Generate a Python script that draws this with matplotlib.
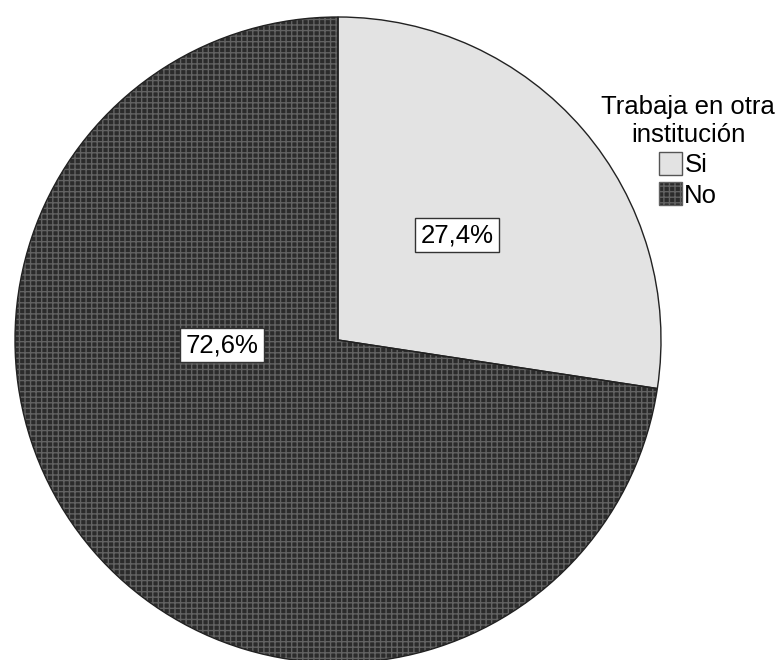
import matplotlib
matplotlib.use("Agg")
import matplotlib.pyplot as plt
from matplotlib.patches import Patch

categories = ["Si", "No"]
percentages = [27.4, 72.6]
legend_title = "Trabaja en otra\ninstitución"

plt.rcParams["font.family"] = ["Liberation Sans", "DejaVu Sans"]
plt.rcParams["hatch.linewidth"] = 1.0

W, H = 776, 660
fig = plt.figure(figsize=(W / 100, H / 100), dpi=100)

# pie centre and radius in pixels
cx, cy, r = 338, 340, 323
ax = fig.add_axes([(cx - r) / W, 1 - (cy + r) / H, 2 * r / W, 2 * r / H])

light = "#e3e3e3"
dark = "#2b2b2b"
grid = "#626262"

# filled wedges: light solid slice and dark grid-patterned slice
wedges, _ = ax.pie(percentages, startangle=90, counterclock=False, radius=1,
                   colors=[light, dark],
                   wedgeprops=dict(linewidth=0))
wedges[1].set_hatch("+++")
wedges[1].set_edgecolor(grid)

# outline drawn on top
outline, _ = ax.pie(percentages, startangle=90, counterclock=False, radius=1,
                    colors=["none", "none"],
                    wedgeprops=dict(linewidth=1.0, edgecolor="#222222", fill=False))

ax.set_xlim(-1, 1)
ax.set_ylim(-1, 1)
ax.set_aspect("equal")
ax.axis("off")

# value labels
label_pos = [(457, 235), (222, 345)]
for (px, py), p in zip(label_pos, percentages):
    fig.text(px / W, 1 - py / H, f"{p:.1f}".replace(".", ",") + "%",
             ha="center", va="center", fontsize=18.5, color="black",
             bbox=dict(boxstyle="square,pad=0.2", facecolor="white",
                       edgecolor="#333333", linewidth=1.0))

# legend
handles = [Patch(facecolor=light, edgecolor="#555555", label=categories[0]),
           Patch(facecolor=dark, edgecolor=grid, hatch="+++", label=categories[1])]
leg = fig.legend(handles=handles, title=legend_title, loc="upper center",
                 bbox_to_anchor=(688 / W, 1 - 82 / H), frameon=False,
                 fontsize=18.5, title_fontsize=18.5, handlelength=0.9,
                 handleheight=1.0, handletextpad=0.1, labelspacing=0.2,
                 borderpad=0.0)
leg.get_title().set_multialignment("center")

fig.savefig("out.png", dpi=100)
